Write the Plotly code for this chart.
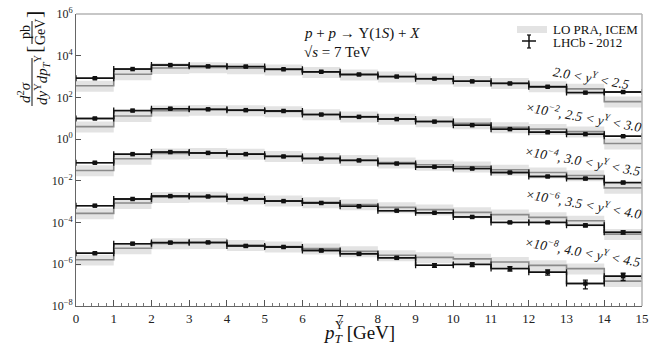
import plotly.graph_objects as go

# ---------------- data ----------------
bin_edges = [float(i) for i in range(16)]
bin_centers = [i + 0.5 for i in range(15)]

scales = [1.0, 1e-2, 1e-4, 1e-6, 1e-8]
rap_labels = [
    "2.0 &lt; <i>y</i><sup>Υ</sup> &lt; 2.5",
    "×10<sup>−2</sup>, 2.5 &lt; <i>y</i><sup>Υ</sup> &lt; 3.0",
    "×10<sup>−4</sup>, 3.0 &lt; <i>y</i><sup>Υ</sup> &lt; 3.5",
    "×10<sup>−6</sup>, 3.5 &lt; <i>y</i><sup>Υ</sup> &lt; 4.0",
    "×10<sup>−8</sup>, 4.0 &lt; <i>y</i><sup>Υ</sup> &lt; 4.5",
]

# LHCb 2012 data (pb/GeV, unscaled)
lhcb_y1 = [832, 2290, 3550, 3090, 3020, 2240, 1700, 1260, 1000, 794, 589, 468, 324, 170, 182]
lhcb_y2 = [977, 2340, 2880, 2690, 2450, 2240, 1510, 1170, 912, 692, 468, 302, 214, 174, 138]
lhcb_y3 = [741, 1910, 2400, 2190, 1910, 1480, 1170, 955, 676, 468, 389, 251, 162, 129, 83]
lhcb_y4 = [646, 1350, 1860, 1780, 1350, 1070, 871, 603, 372, 295, 186, 102, 102, 74, 34]
lhcb_y5 = [339, 977, 1100, 1120, 759, 676, 457, 316, 204, 89, 98, 62, 42, 12, 27]

# relative errors of data
lhcb_err1 = [0.06] * 15
lhcb_err2 = [0.06] * 15
lhcb_err3 = [0.06] * 13 + [0.1, 0.12]
lhcb_err4 = [0.06] * 11 + [0.1, 0.1, 0.15, 0.18]
lhcb_err5 = [0.1] * 9 + [0.2, 0.2, 0.25, 0.28, 0.45, 0.38]

# LO PRA, ICEM central prediction (pb/GeV, unscaled)
theo_y1 = [363, 1290, 2570, 2750, 2510, 2140, 1660, 1260, 1000, 794, 617, 490, 339, 257, 63]
theo_y2 = [398, 1290, 2340, 2510, 2400, 2140, 1550, 1200, 955, 724, 575, 372, 302, 229, 62]
theo_y3 = [316, 1150, 2040, 2140, 2000, 1550, 1230, 1000, 759, 589, 490, 339, 251, 182, 46]
theo_y4 = [275, 871, 1660, 1740, 1410, 1120, 933, 741, 537, 417, 309, 240, 178, 123, 28]
theo_y5 = [166, 589, 1000, 1050, 832, 708, 562, 417, 269, 214, 182, 129, 89, 62, 15.5]

# theory uncertainty band factors
band_up = 1.75
band_down = 0.52

lhcb = [lhcb_y1, lhcb_y2, lhcb_y3, lhcb_y4, lhcb_y5]
lhcb_err = [lhcb_err1, lhcb_err2, lhcb_err3, lhcb_err4, lhcb_err5]
theo = [theo_y1, theo_y2, theo_y3, theo_y4, theo_y5]

# ---------------- figure ----------------
W, H = 664, 350
ML, MR, MT, MB = 76, 22, 14, 44
PW, PH = W - ML - MR, H - MT - MB


def px(x):
    return (x - ML) / PW


def py(y):
    return 1 - (y - MT) / PH


SERIF = "Liberation Serif, Times New Roman, serif"
BAND = "#e3e3e3"
GREY = "#8a8a8a"
BLACK = "#111111"

fig = go.Figure()


def step(vals):
    return list(vals) + [vals[-1]]


# bands
for k in range(5):
    s = scales[k]
    lo = [v * s * band_down for v in theo[k]]
    hi = [v * s * band_up for v in theo[k]]
    fig.add_trace(go.Scatter(x=bin_edges, y=step(lo), mode="lines", line=dict(width=0, shape="hv"),
                             showlegend=False, hoverinfo="skip"))
    fig.add_trace(go.Scatter(x=bin_edges, y=step(hi), mode="lines", line=dict(width=0, shape="hv"),
                             fill="tonexty", fillcolor=BAND, showlegend=False, hoverinfo="skip"))

# theory central lines
for k in range(5):
    s = scales[k]
    fig.add_trace(go.Scatter(x=bin_edges, y=step([v * s for v in theo[k]]), mode="lines",
                             line=dict(color=GREY, width=1.6, shape="hv"), showlegend=False))

# data
for k in range(5):
    s = scales[k]
    vals = [v * s for v in lhcb[k]]
    errs = [v * e for v, e in zip(vals, lhcb_err[k])]
    fig.add_trace(go.Scatter(x=bin_edges, y=step(vals), mode="lines",
                             line=dict(color=BLACK, width=1.5, shape="hv"), showlegend=False))
    fig.add_trace(go.Scatter(x=bin_centers, y=vals, mode="markers",
                             marker=dict(color=BLACK, size=4.5, symbol="square"),
                             error_y=dict(type="data", array=errs, color=BLACK, thickness=1.3, width=2.5),
                             error_x=dict(type="constant", value=0.5, color=BLACK, thickness=1.3, width=3),
                             showlegend=False))

ytickvals = [10.0 ** e for e in range(-8, 7, 2)]
yticktext = ["10<sup>%s</sup>" % (str(e).replace("-", "−")) for e in range(-8, 7, 2)]

fig.update_layout(
    width=W, height=H,
    margin=dict(l=ML, r=MR, t=MT, b=MB, autoexpand=False),
    paper_bgcolor="white", plot_bgcolor="white",
    hovermode=False,
    font=dict(family=SERIF, size=13, color="#222"),
    xaxis=dict(range=[0, 15], tickmode="array", tickvals=list(range(16)),
               ticks="inside", ticklen=6, tickcolor="#555", showgrid=False, zeroline=False,
               showline=True, linecolor="#666", linewidth=1,
               minor=dict(dtick=0.2, ticks="inside", ticklen=3, tickcolor="#777", showgrid=False),
               tickfont=dict(size=13, family=SERIF)),
    yaxis=dict(type="log", range=[-8, 6], tickmode="array", tickvals=ytickvals, ticktext=yticktext,
               ticks="inside", ticklen=5, tickcolor="#555", showgrid=False, zeroline=False,
               showline=True, linecolor="#666", linewidth=1,
               tickfont=dict(size=12, family=SERIF)),
    showlegend=False,
)

# top/right frame
fig.add_shape(type="line", xref="paper", yref="paper", x0=0, x1=1, y0=1, y1=1,
              line=dict(color="#b5b5b5", width=1.5))
fig.add_shape(type="line", xref="paper", yref="paper", x0=1, x1=1, y0=0, y1=1,
              line=dict(color="#b5b5b5", width=1.5))

ann = []


def A(text, x, y, size=13, angle=0, xanchor="center", yanchor="middle"):
    ann.append(dict(text=text, x=px(x), y=py(y), xref="paper", yref="paper", showarrow=False,
                    font=dict(family=SERIF, size=size, color="#111"), textangle=angle,
                    xanchor=xanchor, yanchor=yanchor))


# process text
A("<i>p</i> + <i>p</i> → Υ(1<i>S</i>) + <i>X</i>", 302, 33, size=15, xanchor="left")
A("√<i>s</i> = 7 TeV", 302, 52, size=15, xanchor="left")

# rapidity labels
lab_pos = [(591, 77), (583, 116), (582, 160), (583, 203), (582, 251)]
for t, (x, y) in zip(rap_labels, lab_pos):
    A("<i>%s</i>" % t, x, y, size=13.5, angle=10)

# legend
fig.add_shape(type="rect", xref="paper", yref="paper", x0=px(517), x1=px(547), y0=py(33), y1=py(26),
              fillcolor=BAND, line=dict(width=0))
A("LO PRA, ICEM", 551, 29.5, size=13, xanchor="left")
fig.add_shape(type="line", xref="paper", yref="paper", x0=px(522), x1=px(536), y0=py(41), y1=py(41),
              line=dict(color=BLACK, width=1.5))
fig.add_shape(type="line", xref="paper", yref="paper", x0=px(529), x1=px(529), y0=py(35), y1=py(48),
              line=dict(color=BLACK, width=1.5))
fig.add_shape(type="line", xref="paper", yref="paper", x0=px(527), x1=px(531), y0=py(35), y1=py(35),
              line=dict(color=BLACK, width=1.2))
fig.add_shape(type="line", xref="paper", yref="paper", x0=px(527), x1=px(531), y0=py(48), y1=py(48),
              line=dict(color=BLACK, width=1.2))
A("LHCb - 2012", 551, 43, size=13, xanchor="left")

# x title (Υ stacked above subscript T)
A("<i>p</i><sub><i>T</i></sub> [GeV]", 321, 334, size=19, xanchor="left")
A("Υ", 339, 325, size=12)

# y title (rotated fraction)
A("<i>d</i><sup>2</sup><i>σ</i>", 24, 93, size=15, angle=-90)
fig.add_shape(type="line", xref="paper", yref="paper", x0=px(32), x1=px(32), y0=py(58), y1=py(106),
              line=dict(color="#111", width=1))
A("<i>dy</i><sup>Υ</sup><i>dp</i><sub><i>T</i></sub><sup>Υ</sup>", 42, 80, size=15, angle=-90)
A("[", 33, 50, size=22, angle=-90)
A("pb", 25, 32, size=14, angle=-90)
fig.add_shape(type="line", xref="paper", yref="paper", x0=px(32), x1=px(32), y0=py(21), y1=py(44),
              line=dict(color="#111", width=1))
A("GeV", 40, 32, size=14, angle=-90)
A("]", 33, 15, size=22, angle=-90)

fig.update_layout(annotations=ann)

fig.write_html("out.html", config={"displayModeBar": False},
               post_script="document.body.style.margin='0px';document.body.style.overflow='hidden';")
